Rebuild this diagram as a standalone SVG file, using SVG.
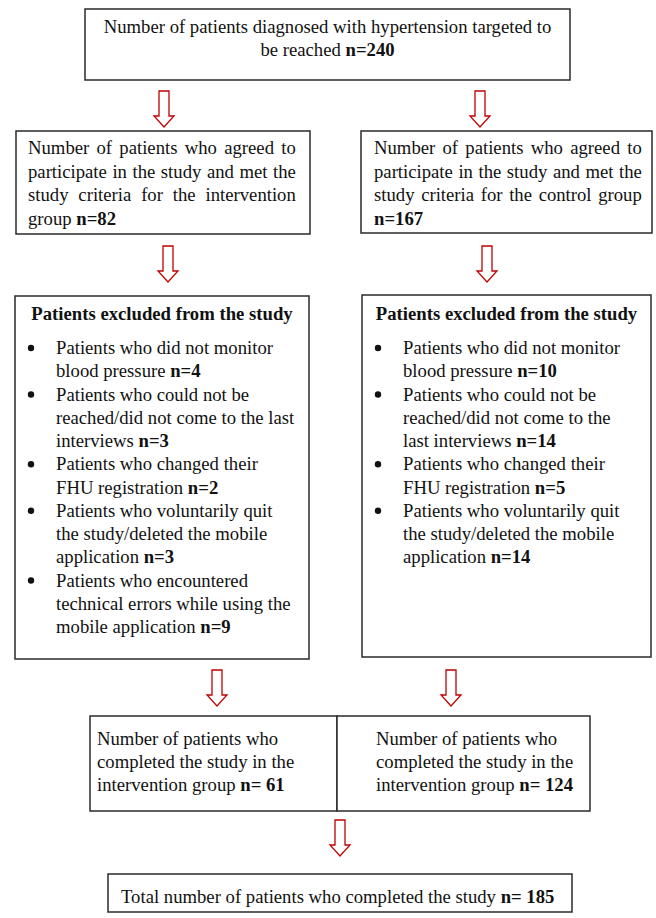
<svg xmlns="http://www.w3.org/2000/svg" width="656" height="918" viewBox="0 0 656 918">
<style>
  .box { fill: #ffffff; stroke: #2a2a2a; stroke-width: 1.5; }
  .t { font-family: "Liberation Serif", "Times New Roman", serif; font-size: 18.7px; fill: #111111; }
  .b { font-weight: bold; }
  .arr { fill: #ffffff; stroke: #c00000; stroke-width: 1.3; stroke-linejoin: miter; }
  .dot { fill: #111111; }
</style>
<defs>
  <path id="blockArrow" d="M -5 0 L 5 0 L 5 25 L 10 25 L 0 36 L -10 25 L -5 25 Z"/>
</defs>
<rect width="656" height="918" fill="#ffffff"/>

<g id="connectors">
  <use href="#blockArrow" class="arr" x="164" y="91"/>
  <use href="#blockArrow" class="arr" x="480" y="91"/>
  <use href="#blockArrow" class="arr" x="168" y="246"/>
  <use href="#blockArrow" class="arr" x="487" y="246"/>
  <use href="#blockArrow" class="arr" x="217" y="670"/>
  <use href="#blockArrow" class="arr" x="451" y="670"/>
  <use href="#blockArrow" class="arr" x="340" y="820"/>
</g>

<g id="node-target">
  <rect class="box" x="85" y="9" width="485" height="71"/>
  <text class="t" x="327.5" y="33" text-anchor="middle">Number of patients diagnosed with hypertension targeted to</text>
  <text class="t" x="327.5" y="56" text-anchor="middle">be reached <tspan class="b">n=240</tspan></text>
</g>

<g id="node-intervention-agreed">
  <rect class="box" x="16" y="131" width="294" height="103"/>
  <text class="t" x="28" y="154" word-spacing="2.6">Number of patients who agreed to</text>
  <text class="t" x="28" y="177.5" word-spacing="0.87">participate in the study and met the</text>
  <text class="t" x="28" y="201" word-spacing="5.2">study criteria for the intervention</text>
  <text class="t" x="28" y="224.5">group <tspan class="b">n=82</tspan></text>
</g>

<g id="node-control-agreed">
  <rect class="box" x="361" y="131" width="291" height="102"/>
  <text class="t" x="374" y="154" word-spacing="2.6">Number of patients who agreed to</text>
  <text class="t" x="374" y="177.5" word-spacing="0.87">participate in the study and met the</text>
  <text class="t" x="374" y="201" word-spacing="1.98">study criteria for the control group</text>
  <text class="t b" x="374" y="224.5">n=167</text>
</g>

<g id="node-intervention-excluded">
  <rect class="box" x="15" y="296" width="294" height="363"/>
  <text class="t b" x="162" y="320" text-anchor="middle">Patients excluded from the study</text>
  <circle class="dot" cx="31" cy="348" r="3.2"/>
  <circle class="dot" cx="31" cy="394.5" r="3.2"/>
  <circle class="dot" cx="31" cy="464.25" r="3.2"/>
  <circle class="dot" cx="31" cy="510.75" r="3.2"/>
  <circle class="dot" cx="31" cy="580.5" r="3.2"/>
  <text class="t" x="56" y="354">Patients who did not monitor</text>
  <text class="t" x="56" y="377.25">blood pressure <tspan class="b">n=4</tspan></text>
  <text class="t" x="56" y="400.5">Patients who could not be</text>
  <text class="t" x="56" y="423.75">reached/did not come to the last</text>
  <text class="t" x="56" y="447">interviews <tspan class="b">n=3</tspan></text>
  <text class="t" x="56" y="470.25">Patients who changed their</text>
  <text class="t" x="56" y="493.5">FHU registration <tspan class="b">n=2</tspan></text>
  <text class="t" x="56" y="516.75">Patients who voluntarily quit</text>
  <text class="t" x="56" y="540">the study/deleted the mobile</text>
  <text class="t" x="56" y="563.25">application <tspan class="b">n=3</tspan></text>
  <text class="t" x="56" y="586.5">Patients who encountered</text>
  <text class="t" x="56" y="609.75">technical errors while using the</text>
  <text class="t" x="56" y="633">mobile application <tspan class="b">n=9</tspan></text>
</g>

<g id="node-control-excluded">
  <rect class="box" x="362" y="295" width="289" height="362"/>
  <text class="t b" x="506.5" y="319.5" text-anchor="middle">Patients excluded from the study</text>
  <circle class="dot" cx="378" cy="348" r="3.2"/>
  <circle class="dot" cx="378" cy="394.5" r="3.2"/>
  <circle class="dot" cx="378" cy="464.25" r="3.2"/>
  <circle class="dot" cx="378" cy="510.75" r="3.2"/>
  <text class="t" x="403" y="354">Patients who did not monitor</text>
  <text class="t" x="403" y="377.25">blood pressure <tspan class="b">n=10</tspan></text>
  <text class="t" x="403" y="400.5">Patients who could not be</text>
  <text class="t" x="403" y="423.75">reached/did not come to the</text>
  <text class="t" x="403" y="447">last interviews <tspan class="b">n=14</tspan></text>
  <text class="t" x="403" y="470.25">Patients who changed their</text>
  <text class="t" x="403" y="493.5">FHU registration <tspan class="b">n=5</tspan></text>
  <text class="t" x="403" y="516.75">Patients who voluntarily quit</text>
  <text class="t" x="403" y="540">the study/deleted the mobile</text>
  <text class="t" x="403" y="563.25">application <tspan class="b">n=14</tspan></text>
</g>

<g id="node-completed-intervention">
  <rect class="box" x="90" y="716" width="247" height="95"/>
  <text class="t" x="97" y="745">Number of patients who</text>
  <text class="t" x="97" y="767.5">completed the study in the</text>
  <text class="t" x="97" y="790.5">intervention group <tspan class="b">n= 61</tspan></text>
</g>

<g id="node-completed-control">
  <rect class="box" x="337" y="716" width="253" height="95"/>
  <text class="t" x="376" y="745">Number of patients who</text>
  <text class="t" x="376" y="767.5">completed the study in the</text>
  <text class="t" x="376" y="790.5">intervention group <tspan class="b">n= 124</tspan></text>
</g>

<g id="node-total">
  <rect class="box" x="108" y="874" width="464" height="38"/>
  <text class="t" x="121" y="903">Total number of patients who completed the study <tspan class="b">n= 185</tspan></text>
</g>
</svg>
